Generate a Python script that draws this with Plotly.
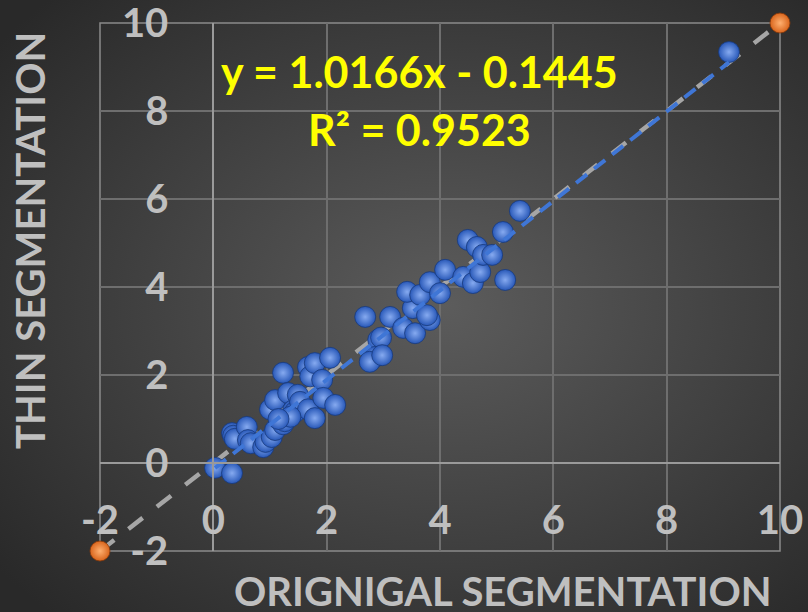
import base64
import plotly.graph_objects as go

# ---- data ----
orig_x = [0.03, 0.33, 0.33, 0.35, 0.38, 0.59, 0.61, 0.66, 0.88, 0.92, 1.03, 1.09, 1.23, 1.26,
          1.00, 1.09, 1.23, 1.32, 1.41, 1.44, 1.49, 1.53, 1.67, 1.67, 1.71, 1.79, 1.79, 1.92,
          1.94, 2.06, 2.15, 1.36, 1.15, 2.68, 3.12, 2.91, 2.96, 2.85, 2.76, 2.98, 3.35, 3.56,
          3.52, 3.42, 3.65, 3.82, 3.77, 3.82, 4.00, 4.09, 4.41, 4.58, 4.71, 4.49, 4.65, 4.76,
          4.92, 5.15, 5.11, 5.41, 9.10]
thin_y = [-0.11, -0.23, 0.68, 0.62, 0.55, 0.82, 0.52, 0.45, 0.36, 0.48, 0.59, 0.75, 0.88, 0.95,
          1.22, 1.43, 2.05, 1.59, 1.20, 1.16, 1.55, 1.39, 1.22, 2.18, 1.97, 2.27, 1.02, 1.89,
          1.48, 2.39, 1.32, 1.05, 1.00, 3.32, 3.32, 2.80, 2.85, 2.41, 2.30, 2.45, 3.07, 2.95,
          3.52, 3.89, 3.82, 3.25, 3.36, 4.11, 3.86, 4.39, 4.23, 4.09, 4.34, 5.07, 4.91, 4.73,
          4.73, 4.16, 5.25, 5.73, 9.34]

identity_x = [-2, 10]
identity_y = [-2, 10]

slope = 1.0166
intercept = -0.1445
equation_text = "y = 1.0166x - 0.1445"
r2_text = "R² = 0.9523"

tick_vals = [-2, 0, 2, 4, 6, 8, 10]
tick_text = ["-2", "0", "2", "4", "6", "8", "10"]
x_title = "ORIGNIGAL SEGMENTATION"
y_title = "THIN SEGMENTATION"

# ---- derived ----
trend_x = [min(orig_x), max(orig_x)]
trend_y = [slope * v + intercept for v in trend_x]

W, H = 808, 612
ML, MR, MT, MB = 100, 28, 23, 61
PW, PH = W - ML - MR, H - MT - MB

svg = ("<svg xmlns='http://www.w3.org/2000/svg' width='808' height='612'>"
       "<defs><radialGradient id='g' cx='55%' cy='50%' r='70%'>"
       "<stop offset='0' stop-color='#5c5c5c'/><stop offset='1' stop-color='#292929'/>"
       "</radialGradient></defs><rect width='808' height='612' fill='url(#g)'/></svg>")
bg_src = "data:image/svg+xml;base64," + base64.b64encode(svg.encode()).decode()

label_col = "#bfbfbf"
font_fam = "Lato, Open Sans, sans-serif"

fig = go.Figure()

fig.add_trace(go.Scatter(
    x=identity_x, y=identity_y, mode="lines", cliponaxis=False,
    line=dict(color="#a6a6a6", width=4.5, dash="18px,18px"),
    hoverinfo="skip", showlegend=False))

fig.add_trace(go.Scatter(
    x=orig_x, y=thin_y, mode="markers", cliponaxis=False,
    marker=dict(size=21, color="#2858b8",
                gradient=dict(type="radial", color="#86aaf0"),
                line=dict(width=0.8, color="#183a7c")),
    showlegend=False))

fig.add_trace(go.Scatter(
    x=identity_x, y=identity_y, mode="markers", cliponaxis=False,
    marker=dict(size=20, color="#d9651c",
                gradient=dict(type="radial", color="#ffb070"),
                line=dict(width=0.8, color="#8a3a0a")),
    showlegend=False))

fig.add_trace(go.Scatter(
    x=trend_x, y=trend_y, mode="lines", cliponaxis=False,
    line=dict(color="#3f76d6", width=4, dash="14px,9px"),
    hoverinfo="skip", showlegend=False))

axis_common = dict(
    range=[-2, 10], tickvals=tick_vals, ticktext=tick_text,
    showgrid=True, gridcolor="#6e6e6e", gridwidth=1.5,
    zeroline=True, zerolinecolor="#9a9a9a", zerolinewidth=2,
    showline=True, linecolor="#9a9a9a", linewidth=2,
    ticks="outside", tickcolor="rgba(0,0,0,0)", ticklabeloverflow="allow",
    tickfont=dict(family=font_fam, size=40, color=label_col, weight="bold"),
    anchor="free", automargin=False, fixedrange=True,
)

fig.update_layout(
    width=W, height=H,
    margin=dict(l=ML, r=MR, t=MT, b=MB),
    paper_bgcolor="#333333", plot_bgcolor="rgba(0,0,0,0)",
    xaxis=dict(axis_common, position=2 / 12, ticklen=22),
    yaxis=dict(axis_common, position=2 / 12, ticklen=36),
    images=[dict(source=bg_src, xref="paper", yref="paper",
                 x=-ML / PW, y=1 + MT / PH, sizex=W / PW, sizey=H / PH,
                 xanchor="left", yanchor="top", sizing="stretch", layer="below")],
    shapes=[dict(type="rect", xref="paper", yref="paper", x0=0, y0=0, x1=1, y1=1,
                 line=dict(color="#8a8a8a", width=1.5), layer="below")],
    annotations=[
        dict(text=x_title, xref="paper", yref="paper", x=(503 - ML) / PW, y=(H - MB - 591) / PH,
             showarrow=False, xanchor="center", yanchor="middle",
             font=dict(family=font_fam, size=40, color=label_col, weight="bold")),
        dict(text=y_title, xref="paper", yref="paper", x=(30 - ML) / PW, y=(H - MB - 241) / PH,
             showarrow=False, xanchor="center", yanchor="middle", textangle=-90,
             font=dict(family=font_fam, size=40, color=label_col, weight="bold")),
        dict(text=equation_text, xref="paper", yref="paper", x=(419 - ML) / PW, y=(H - MB - 72) / PH,
             showarrow=False, xanchor="center", yanchor="middle",
             font=dict(family=font_fam, size=43, color="#ffff00", weight="bold")),
        dict(text=r2_text, xref="paper", yref="paper", x=(419 - ML) / PW, y=(H - MB - 129) / PH,
             showarrow=False, xanchor="center", yanchor="middle",
             font=dict(family=font_fam, size=43, color="#ffff00", weight="bold")),
    ],
)

fig.write_html("out.html")
